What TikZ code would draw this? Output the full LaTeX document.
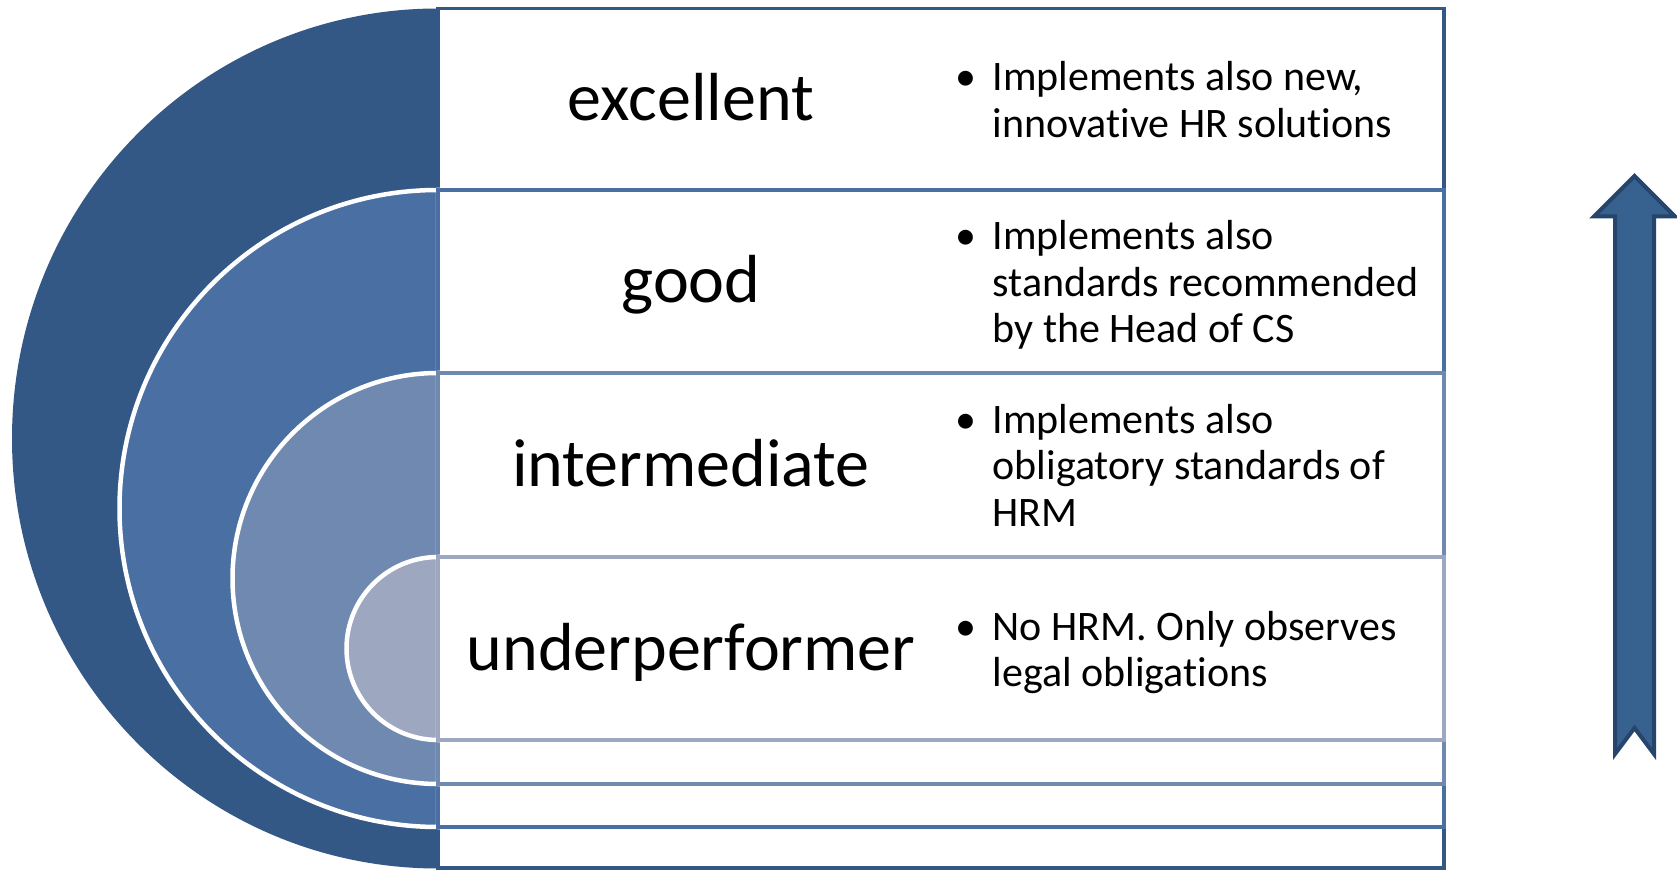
\documentclass[tikz,border=0pt]{standalone}
\usepackage{fontspec}
\setmainfont{Carlito}[RawFeature={-liga;-clig;-calt;-dlig}]
\usetikzlibrary{positioning}
\definecolor{tierA}{HTML}{345886}
\definecolor{tierB}{HTML}{4A6FA2}
\definecolor{tierC}{HTML}{7089B1}
\definecolor{tierD}{HTML}{9DA7BF}
\definecolor{arrowfill}{HTML}{37618F}
\definecolor{arrowline}{HTML}{25456C}
\tikzstyle{half} = [draw=white, line width=4.5pt]
\tikzstyle{tier} = [fill=white, line width=3.5pt]
\tikzstyle{level} = [anchor=base, inner sep=0pt, font=\fontsize{68}{76}\selectfont]
\tikzstyle{detail} = [anchor=west, align=left, inner sep=0pt, font=\fontsize{42}{46.5}\selectfont]
\tikzstyle{upward} = [fill=arrowfill, draw=arrowline, line width=4pt, line join=miter]
\newcommand{\itemdot}{\llap{\makebox[53pt]{•}}\strut}

\begin{document}
\begin{tikzpicture}[x=1pt, y=1pt]
\useasboundingbox (0,0) rectangle (1677,870);

%% HALF DISCS AND ROWS

\fill [tierA] (438,861.5) arc (90:270:426 and 430) -- cycle;
\draw [tier, draw=tierA] (438,861.5) rectangle (1444,2);
\filldraw [half, fill=tierB] (438,680) arc (90:270:318.5) -- cycle;
\draw [tier, draw=tierB] (438,680) rectangle (1444,43);
\filldraw [half, fill=tierC] (438,497) arc (90:270:205.5) -- cycle;
\draw [tier, draw=tierC] (438,497) rectangle (1444,86);
\filldraw [half, fill=tierD] (438,313) arc (90:270:91.5) -- cycle;
\draw [tier, draw=tierD] (438,313) rectangle (1444,130);

%% NODES

\node (excellent) [level] at (691,749.5) {excellent};
\node (good) [level] at (691,567.5) {good};
\node (intermediate) [level] at (691,383.5) {intermediate};
\node (under) [level] at (691,200) {underperformer};

\node (excellent_d) [detail] at (992.5,765.3) {\itemdot Implements also new,\\innovat\kern0pt ive HR solutions\strut};
\node (good_d) [detail] at (992.5,582.8) {\itemdot Implements also\\standards recommended\\by the Head of CS\strut};
\node (intermediate_d) [detail] at (992.5,399.3) {\itemdot Implements also\\obligatory standards of\\HRM\strut};
\node (under_d) [detail] at (992.5,215.8) {\itemdot No HRM. Only observes\\legal obligat\kern0pt ions\strut};

%% ARROW

\filldraw [upward] (1634.5,694) -- (1675,653.5) -- (1654,653.5) -- (1654,116) -- (1634.5,142)
  -- (1615,116) -- (1615,653.5) -- (1594,653.5) -- cycle;

\end{tikzpicture}
\end{document}
